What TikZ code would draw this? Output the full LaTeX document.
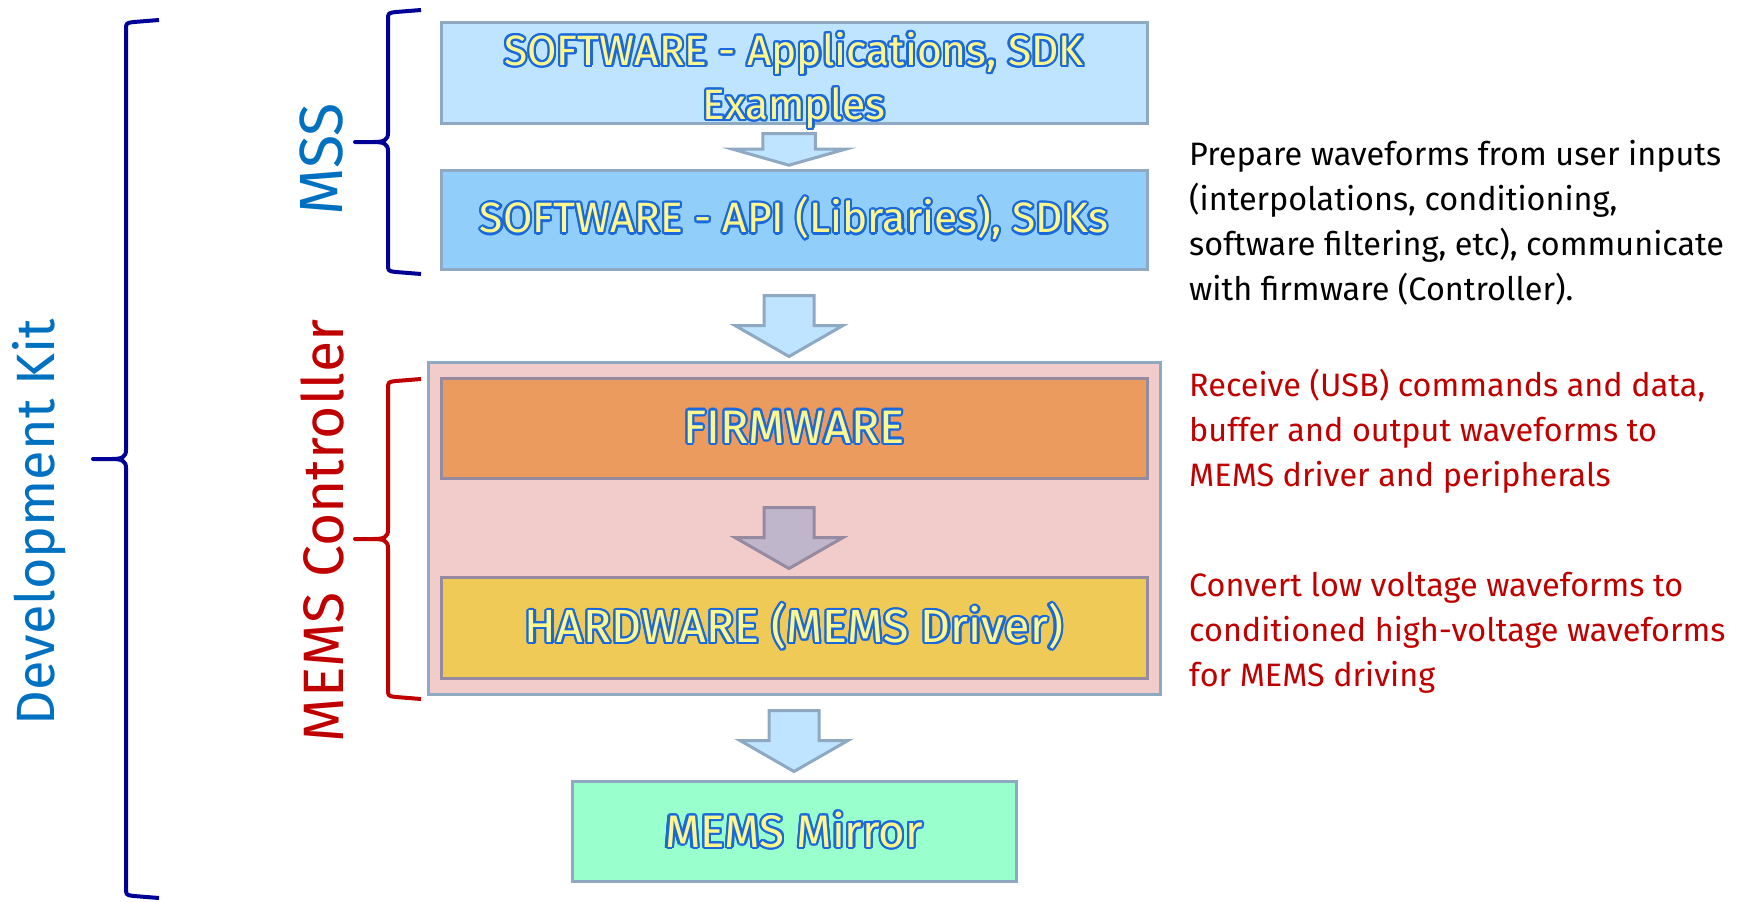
\documentclass[tikz,border=0pt]{standalone}
\usepackage{fontspec}
\setmainfont{Fira Sans}
\usepackage{contour}
\usepackage{xcolor}
\usetikzlibrary{calc}

\definecolor{boxline}{RGB}{142,169,193}
\definecolor{fwline}{RGB}{150,138,160}
\definecolor{appfill}{RGB}{190,228,255}
\definecolor{apifill}{RGB}{146,206,250}
\definecolor{fwfill}{RGB}{235,155,94}
\definecolor{hwfill}{RGB}{240,202,86}
\definecolor{mirfill}{RGB}{153,255,204}
\definecolor{ctrlfill}{RGB}{242,203,203}
\definecolor{midarr}{RGB}{191,182,204}
\definecolor{kitblue}{RGB}{0,112,192}
\definecolor{bracenavy}{RGB}{0,0,150}
\definecolor{ctrlred}{RGB}{192,0,0}
\definecolor{wordyellow}{RGB}{255,246,140}
\definecolor{wordblue}{RGB}{25,105,220}

\contourlength{2.2pt}
\newcommand{\wordart}[1]{{\color{wordyellow}\contour{wordblue}{#1}}}
% left curly bracket: colour, x of the ends, top y, bottom y
\newcommand{\grpbrace}[4]{%
\pgfmathsetmacro{\spx}{#2-33}%
\pgfmathsetmacro{\tpx}{#2-66}%
\pgfmathsetmacro{\mdy}{(#3+#4)/2}%
\draw[#1,line width=4pt,line join=round] (#2,#3) -- (\spx+8,#3+2) .. controls (\spx,#3+3) .. (\spx,#3+10)
  -- (\spx,\mdy-9) .. controls (\spx,\mdy-2) and (\spx-4,\mdy) .. (\spx-14,\mdy) -- (\tpx,\mdy)
  -- (\spx-14,\mdy) .. controls (\spx-4,\mdy) and (\spx,\mdy+2) .. (\spx,\mdy+9)
  -- (\spx,#4-10) .. controls (\spx,#4-3) .. (\spx+8,#4-2) -- (#2,#4);}

\tikzset{blk/.style={draw=boxline,line width=3pt,minimum width=706pt,minimum height=100pt,inner sep=0pt,align=center}}
\tikzset{blkarr/.style={draw=boxline,fill=appfill,line width=3pt,line join=miter}}
\tikzset{note/.style={anchor=west,align=left,inner sep=0pt,font=\fontsize{32.4}{45}\selectfont}}
\tikzset{side/.style={rotate=90,inner sep=0pt,text=kitblue}}
\tikzset{downarr/.pic={\path[pic actions] (-25,0) -- (25,0) -- (25,30) -- (54,30) -- (0,61) -- (-54,30) -- (-25,30) -- cycle;}}

\begin{document}
\begin{tikzpicture}[x=1pt,y=-1pt]
\useasboundingbox (0,0) rectangle (1738,902);
\node[blk,fill=appfill,minimum height=101pt] (app) at (794,72.5) {};
\node[align=center,inner sep=0pt,font=\fontsize{42.5}{54}\selectfont] (applab) at ($(app.center)+(0,9)$) {\wordart{SOFTWARE - Applications, SDK}\\\wordart{Examples}};
\node[blk,fill=apifill,minimum height=99pt,font=\fontsize{42.5}{54}\selectfont] (api) at (794,219.5) {\wordart{SOFTWARE - API (Libraries), SDKs}};
\node[draw=boxline,fill=ctrlfill,line width=3pt,minimum width=732pt,minimum height=332pt] (ctrl) at (794,528) {};
\node[blk,fill=fwfill,draw=fwline,font=\fontsize{47}{54}\selectfont] (fw) at (794,428) {\wordart{FIRMWARE}};
\node[blk,fill=hwfill,draw=fwline,minimum height=101pt,font=\fontsize{46.5}{54}\selectfont] (hw) at (794,627.5) {\wordart{HARDWARE (MEMS Driver)}};
\node[blk,fill=mirfill,minimum width=444pt,font=\fontsize{45.6}{54}\selectfont] (mir) at (794,831) {\wordart{MEMS Mirror}};
\pic[blkarr,xscale=1.05,yscale=0.52] at ($(app.south)+(-5,9)$) {downarr};
\pic[blkarr] at ($(api.south)+(-5,25)$) {downarr};
\pic[blkarr,draw=fwline,fill=midarr] at ($(fw.south)+(-5,28)$) {downarr};
\pic[blkarr] at ($(ctrl.south)+(0,15)$) {downarr};
% braces and group labels
\grpbrace{bracenavy}{159}{20}{898}
\grpbrace{bracenavy}{421}{10}{274}
\grpbrace{ctrlred}{421}{379}{699}
\node[side,font=\fontsize{54}{60}\selectfont] (kit) at (39,522) {Development Kit};
\node[side,font=\fontsize{61}{66}\selectfont] (mss) at (321,159) {MSS};
\node[side,text=ctrlred,font=\fontsize{57}{62}\selectfont] (ctl) at (322,531) {MEMS Controller};
% notes
\node[note] (swnote) at (1189,222.5) {Prepare waveforms from user inputs\\(interpolations, conditioning,\\software filtering, etc), communicate\\with firmware (Controller).};
\node[note,text=ctrlred] (fwnote) at (1189,431) {Receive (USB) commands and data,\\buffer and output waveforms to\\MEMS driver and peripherals};
\node[note,text=ctrlred] (hwnote) at (1189,633) {Convert low voltage waveforms to\\conditioned high-voltage waveforms\\for MEMS driving};
\end{tikzpicture}
\end{document}
